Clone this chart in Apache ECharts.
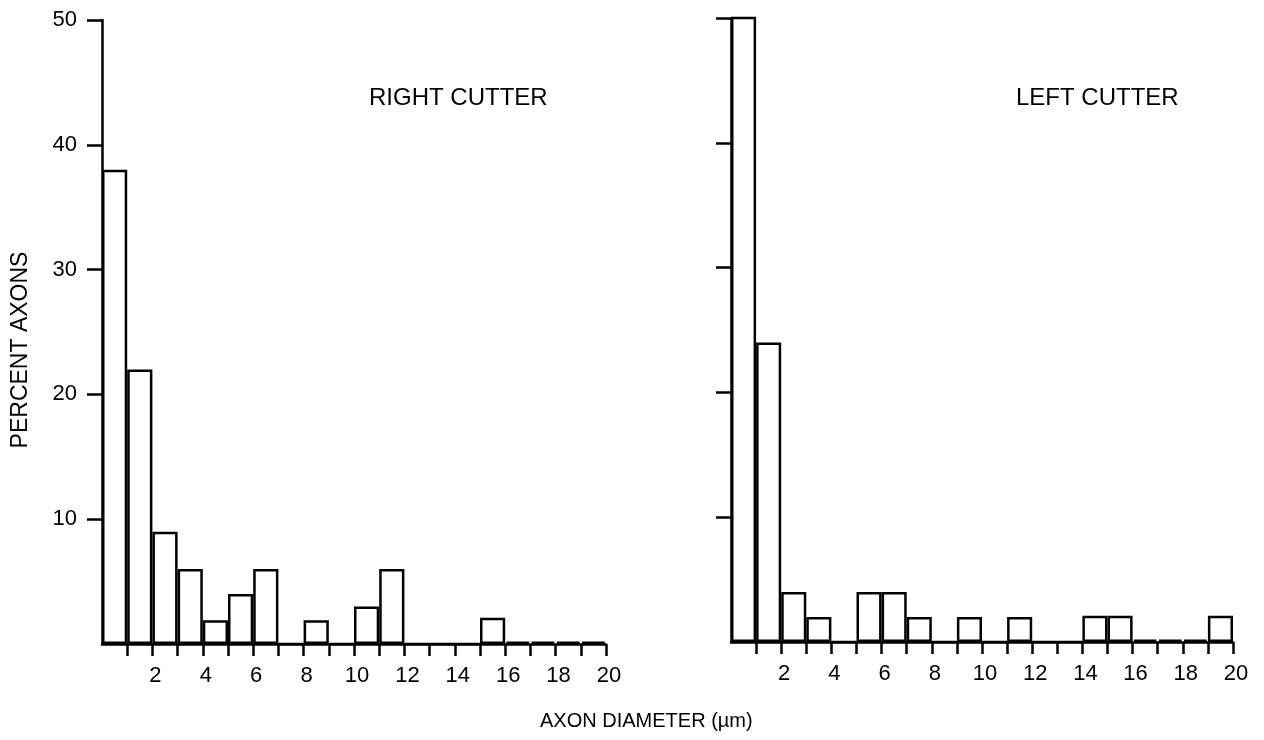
<!DOCTYPE html>
<html>
<head>
<meta charset="utf-8">
<title>Axon diameter histograms</title>
<script src="https://cdn.jsdelivr.net/npm/echarts@6/dist/echarts.min.js"></script>
<style>
  html, body { margin: 0; padding: 0; background: #fff; }
  #chart { width: 1264px; height: 740px; }
</style>
</head>
<body>
<div id="chart"></div>
<script>
// ---- Data ----
const diameterBins = ['0-1','1-2','2-3','3-4','4-5','5-6','6-7','7-8','8-9','9-10',
                      '10-11','11-12','12-13','13-14','14-15','15-16','16-17','17-18','18-19','19-20'];
const rightCutterPercent = [38, 22, 9, 6, 1.9, 4, 6, 0, 1.9, 0, 3, 6, 0, 0, 0, 2.1, 0.2, 0.2, 0.2, 0.2];
const leftCutterPercent  = [50.2, 24, 4, 2, 0, 4, 4, 2, 0, 2, 0, 2, 0, 0, 2.1, 2.1, 0.2, 0.2, 0.2, 2.1];
const xTickValues  = [1,2,3,4,5,6,7,8,9,10,11,12,13,14,15,16,17,18,19,20];
const xLabelValues = [2,4,6,8,10,12,14,16,18,20];
const yTickValues  = [10,20,30,40,50];
const yLabelValues = [10,20,30,40,50];
const panelTitles  = ['RIGHT CUTTER', 'LEFT CUTTER'];
const yAxisTitle   = 'PERCENT AXONS';
const xAxisTitle   = 'AXON DIAMETER (µm)';

const FONT = "'Liberation Sans', Arial, Helvetica, sans-serif";
const LINE_W = 2.5;

function catAxis(gi) {
  return { type: 'category', gridIndex: gi, data: diameterBins, show: false, position: 'bottom' };
}
function valXAxis(gi) {
  return {
    type: 'value', gridIndex: gi, min: 0, max: 20, interval: 1, position: 'bottom',
    axisLine: { show: true, onZero: false, lineStyle: { color: '#000', width: LINE_W } },
    axisTick: { show: true, inside: false, length: 12, customValues: xTickValues,
                lineStyle: { color: '#000', width: LINE_W } },
    axisLabel: { show: true, customValues: xLabelValues, margin: 21, color: '#000',
                 fontSize: 22, fontFamily: FONT, padding: [0, 0, 0, 6] },
    splitLine: { show: false }
  };
}
function yAxis(gi, withLabels) {
  return {
    type: 'value', gridIndex: gi, min: 0, max: 50, interval: 10,
    axisLine: { show: true, onZero: false, lineStyle: { color: '#000', width: LINE_W } },
    axisTick: { show: true, inside: false, length: 15, customValues: yTickValues,
                lineStyle: { color: '#000', width: LINE_W } },
    axisLabel: { show: withLabels, customValues: yLabelValues, margin: 25, color: '#000',
                 fontSize: 22, fontFamily: FONT },
    splitLine: { show: false }
  };
}
function barSeries(xi, yi, data) {
  return {
    type: 'bar', xAxisIndex: xi, yAxisIndex: yi, data: data,
    barCategoryGap: '0%', barGap: '0%',
    itemStyle: { color: '#fff', borderColor: '#000', borderWidth: LINE_W },
    emphasis: { disabled: true },
    animation: false
  };
}

const chart = echarts.init(document.getElementById('chart'), null, { renderer: 'canvas' });
chart.setOption({
  backgroundColor: '#fff',
  animation: false,
  title: [
    { text: panelTitles[0], left: 369, top: 86, padding: 0,
      textStyle: { color: '#000', fontSize: 24, fontWeight: 'normal', fontFamily: FONT } },
    { text: panelTitles[1], left: 1016, top: 86, padding: 0,
      textStyle: { color: '#000', fontSize: 24, fontWeight: 'normal', fontFamily: FONT } },
    { text: xAxisTitle, left: 540, top: 711, padding: 0,
      textStyle: { color: '#000', fontSize: 20, fontWeight: 'normal', fontFamily: FONT } }
  ],
  graphic: [
    { type: 'text', x: 21, y: 350, rotation: Math.PI / 2, silent: true,
      style: { text: yAxisTitle, fill: '#000', font: "23px " + FONT,
               align: 'center', verticalAlign: 'middle' } }
  ],
  grid: [
    { left: 102, top: 20, width: 504, height: 624 },
    { left: 731, top: 18, width: 502, height: 624 }
  ],
  xAxis: [catAxis(0), valXAxis(0), catAxis(1), valXAxis(1)],
  yAxis: [yAxis(0, true), yAxis(1, false)],
  series: [
    barSeries(0, 0, rightCutterPercent),
    barSeries(2, 1, leftCutterPercent)
  ]
});
</script>
</body>
</html>
